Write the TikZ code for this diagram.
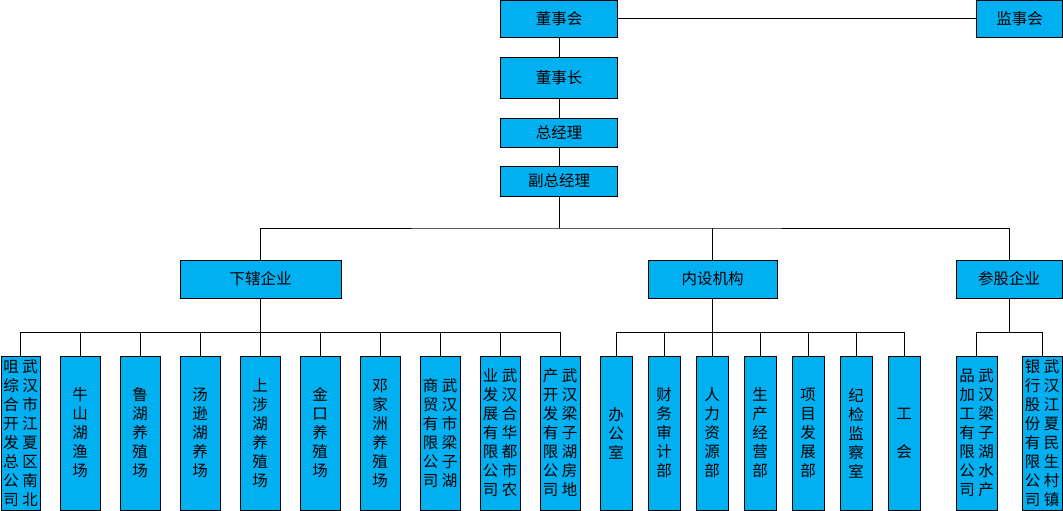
\documentclass[tikz,border=0pt]{standalone}
\usepackage{fontspec}
\newfontfamily\cjk{Noto Sans CJK SC}
\definecolor{boxblue}{HTML}{00B0F0}
\makeatletter
\newcommand\vcol[1]{\vbox{\baselineskip=19pt\lineskiplimit=-20pt\@tfor\vc@c:=#1\do{\hbox to 15pt{\hss\vc@c\hss}}}}
\makeatother
\begin{document}
\begin{tikzpicture}[x=1pt,y=-1pt,
  box/.style={draw, fill=boxblue, line width=1pt, inner sep=0pt, font=\cjk\fontsize{15.5pt}{19pt}\selectfont},
  vb/.style={box, minimum height=154},
  ln/.style={line width=1pt}]
\useasboundingbox (0,0) rectangle (1063,511);
% top level
\node[box, minimum width=117, minimum height=37] (dsh) at (559,19) {董事会};
\node[box, minimum width=86, minimum height=37] (jsh) at (1019.5,19) {监事会};
\node[box, minimum width=117, minimum height=40] (dsz) at (559,78) {董事长};
\node[box, minimum width=117, minimum height=29] (zjl) at (559,132.5) {总经理};
\node[box, minimum width=117, minimum height=30] (fzjl) at (559,181) {副总经理};
% second level
\node[box, minimum width=161, minimum height=38] (xx) at (260.5,279) {下辖企业};
\node[box, minimum width=129, minimum height=38] (ns) at (712.5,279) {内设机构};
\node[box, minimum width=106, minimum height=38] (cg) at (1009,279) {参股企业};
% subsidiaries
\node[vb, minimum width=39] (a1) at (20.5,433) {\vcol{咀综合开发总公司}\hspace{4pt}\vcol{武汉市江夏区南北}};
\node[vb, minimum width=40] (a2) at (80,433) {\vcol{牛山湖渔场}};
\node[vb, minimum width=40] (a3) at (140,433) {\vcol{鲁湖养殖场}};
\node[vb, minimum width=40] (a4) at (200,433) {\vcol{汤逊湖养场}};
\node[vb, minimum width=40] (a5) at (260,433) {\vcol{上涉湖养殖场}};
\node[vb, minimum width=40] (a6) at (320,433) {\vcol{金口养殖场}};
\node[vb, minimum width=40] (a7) at (380,433) {\vcol{邓家洲养殖场}};
\node[vb, minimum width=40] (a8) at (440,433) {\vcol{商贸有限公司}\hspace{4pt}\vcol{武汉市梁子湖}};
\node[vb, minimum width=40] (a9) at (500,433) {\vcol{业发展有限公司}\hspace{4pt}\vcol{武汉合华都市农}};
\node[vb, minimum width=40] (a10) at (560,433) {\vcol{产开发有限公司}\hspace{4pt}\vcol{武汉梁子湖房地}};
% internal departments
\node[vb, minimum width=32] (n1) at (616,433) {\vcol{办公室}};
\node[vb, minimum width=32] (n2) at (664,433) {\vcol{财务审计部}};
\node[vb, minimum width=32] (n3) at (712,433) {\vcol{人力资源部}};
\node[vb, minimum width=32] (n4) at (760,433) {\vcol{生产经营部}};
\node[vb, minimum width=32] (n5) at (808,433) {\vcol{项目发展部}};
\node[vb, minimum width=32] (n6) at (856,433) {\vcol{纪检监察室}};
\node[vb, minimum width=32] (n7) at (904,433) {\vcol{工~会}};
% shareholdings
\node[vb, minimum width=41] (c1) at (976.5,433) {\vcol{品加工有限公司}\hspace{4pt}\vcol{武汉梁子湖水产}};
\node[vb, minimum width=40] (c2) at (1042,433) {\vcol{银行股份有限公司}\hspace{4pt}\vcol{武汉江夏民生村镇}};
% connectors top
\draw[ln] (dsh) -- (jsh);
\draw[ln] (dsh) -- (dsz);
\draw[ln] (dsz) -- (zjl);
\draw[ln] (zjl) -- (fzjl);
\coordinate (j1) at (559,228);
\draw[ln] (fzjl) -- (j1);
\draw[ln] (xx.north) |- (j1) -| (cg.north);
\draw[ln] (ns.north) -- (ns.north |- j1);
% buses
\coordinate (bus) at (0,332);
\draw[ln] (xx.south) -- (xx.south |- bus);
\draw[ln] (a1.north) |- (a10.north |- bus) -- (a10.north);
\foreach \i in {2,...,9} \draw[ln] (a\i.north) -- (a\i.north |- bus);
\draw[ln] (ns.south) -- (ns.south |- bus);
\draw[ln] (n1.north) |- (n7.north |- bus) -- (n7.north);
\foreach \i in {2,...,6} \draw[ln] (n\i.north) -- (n\i.north |- bus);
\draw[ln] (cg.south) -- (cg.south |- bus);
\draw[ln] (c1.north) |- (c2.north |- bus) -- (c2.north);
\end{tikzpicture}
\end{document}
